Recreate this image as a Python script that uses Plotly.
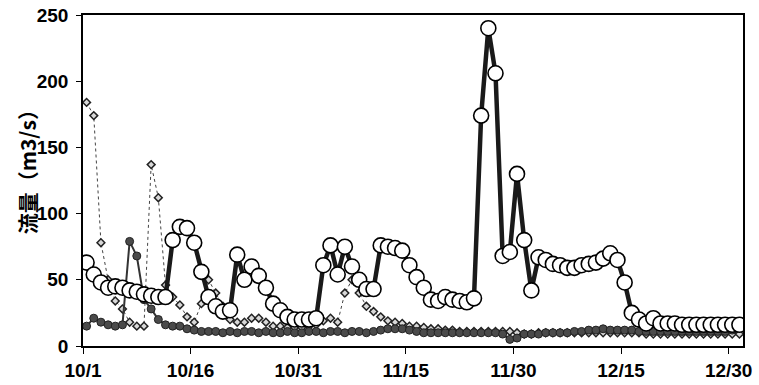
import pandas as pd
import plotly.graph_objects as go

start_date = "2020-10-01"

# Series A: large hollow circles, thick line
flow_a = [63, 54, 48, 44, 45, 44, 42, 41, 39, 38, 37, 37,
          80, 90, 89, 78, 56, 37, 30, 26, 27,
          69, 50, 60, 53, 44, 32, 27, 22, 20, 20, 20, 21, 61,
          76, 54, 75, 60, 50, 43, 43, 76, 75, 74, 72, 61, 52,
          44, 35, 34, 37, 35, 34, 33, 36,
          174, 240, 206, 68, 71, 130, 80, 42,
          67, 65, 62, 61, 59, 59, 61, 62, 63, 66, 70, 65,
          48, 25, 20, 17, 21, 17, 17, 17, 16, 16, 16, 16, 16, 16, 16, 16, 16]

# Series B: small dark filled circles, solid line
flow_b = [15, 21, 18, 16, 15, 16, 79, 68, 35, 28, 20, 16,
          15, 15, 13, 12, 11,
          11, 11, 10, 11, 10, 11, 11, 10, 11, 10, 10, 11, 10, 10, 11, 11, 10, 11, 11, 10, 11, 11, 10, 11,
          12, 13, 13, 13, 12, 11,
          10, 10, 10, 10, 10, 10, 10, 10, 10, 10, 10, 9, 5, 6,
          9, 9, 9, 10, 10, 10, 10, 11, 11,
          12, 12, 13, 12,
          12, 12, 12, 11, 11, 11, 11, 11, 11, 11, 11, 11, 11, 11, 11, 11, 12]

# Series C: small diamonds, dotted line
flow_c = [184, 174, 78, 50, 34, 28, 18, 15, 15, 137, 112, 46,
          37, 31, 22, 18, 32, 50, 40, 30, 20, 18, 18, 21, 21, 18, 15,
          15, 14, 14, 14, 15, 16, 19,
          21, 18, 40, 50, 40, 30, 26, 22, 19, 18, 17, 15, 15,
          14, 13, 13, 12, 12, 11, 11, 11, 11, 11, 11, 11, 11, 10, 9, 9,
          10, 10, 10, 10, 10, 10, 10, 10, 10, 10, 10, 10, 10, 10, 10,
          9, 9, 9, 9, 9, 9, 9, 9, 9, 9, 9, 9, 9, 9]

y_ticks = [0, 50, 100, 150, 200, 250]

def dates(n):
    return pd.date_range(start_date, periods=n, freq="D")

DAY_MS = 86400000

fig = go.Figure()
fig.add_trace(go.Scatter(
    x=dates(len(flow_c)), y=flow_c, mode="lines+markers",
    xperiod=DAY_MS, xperiodalignment="middle",
    line=dict(color="#444444", width=1, dash="dot"),
    marker=dict(symbol="diamond", size=6, color="#d8d8d8",
                line=dict(color="#222222", width=1.5)),
    showlegend=False))
fig.add_trace(go.Scatter(
    x=dates(len(flow_b)), y=flow_b, mode="lines+markers",
    xperiod=DAY_MS, xperiodalignment="middle",
    line=dict(color="#333333", width=2),
    marker=dict(symbol="circle", size=8, color="#4a4a4a",
                line=dict(color="#222222", width=1)),
    showlegend=False))
fig.add_trace(go.Scatter(
    x=dates(len(flow_a)), y=flow_a, mode="lines+markers",
    xperiod=DAY_MS, xperiodalignment="middle",
    line=dict(color="#1a1a1a", width=4.5),
    marker=dict(symbol="circle", size=15, color="white",
                line=dict(color="black", width=1.6)),
    showlegend=False))

tick_font = dict(family="Liberation Sans, Arial, sans-serif", size=19,
                 color="black", weight="bold")

fig.update_layout(
    width=759, height=385,
    margin=dict(l=83, r=16, t=15, b=39, autoexpand=False),
    paper_bgcolor="white", plot_bgcolor="white",
    hovermode=False,
    xaxis=dict(
        type="date", automargin=False,
        range=["2020-10-01", "2021-01-01"],
        tick0="2020-10-01", dtick=15 * DAY_MS,
        tickformat="%-m/%-d",
        showgrid=False, zeroline=False,
        showline=True, linecolor="black", linewidth=1.6, mirror=True,
        ticks="outside", ticklen=6, tickwidth=1.3, tickcolor="black",
        tickfont=tick_font,
    ),
    yaxis=dict(
        automargin=False,
        range=[0, 250],
        tickvals=y_ticks,
        showgrid=False, zeroline=False,
        showline=True, linecolor="black", linewidth=1.6, mirror=True,
        ticks="outside", ticklen=5, tickwidth=1.3, tickcolor="black",
        ticklabelstandoff=4,
        tickfont=tick_font,
    ),
    annotations=[dict(
        text="流量（m3/s）", textangle=-90,
        xref="paper", yref="paper", x=-56 / 660, y=0.54,
        xanchor="center", yanchor="middle", showarrow=False,
        font=dict(family="Noto Sans CJK JP", size=21, color="black", weight="bold"),
    )],
)

fig.write_html("out.html", config={"displayModeBar": False},
               post_script="document.body.style.margin='0';document.body.style.overflow='hidden';")
